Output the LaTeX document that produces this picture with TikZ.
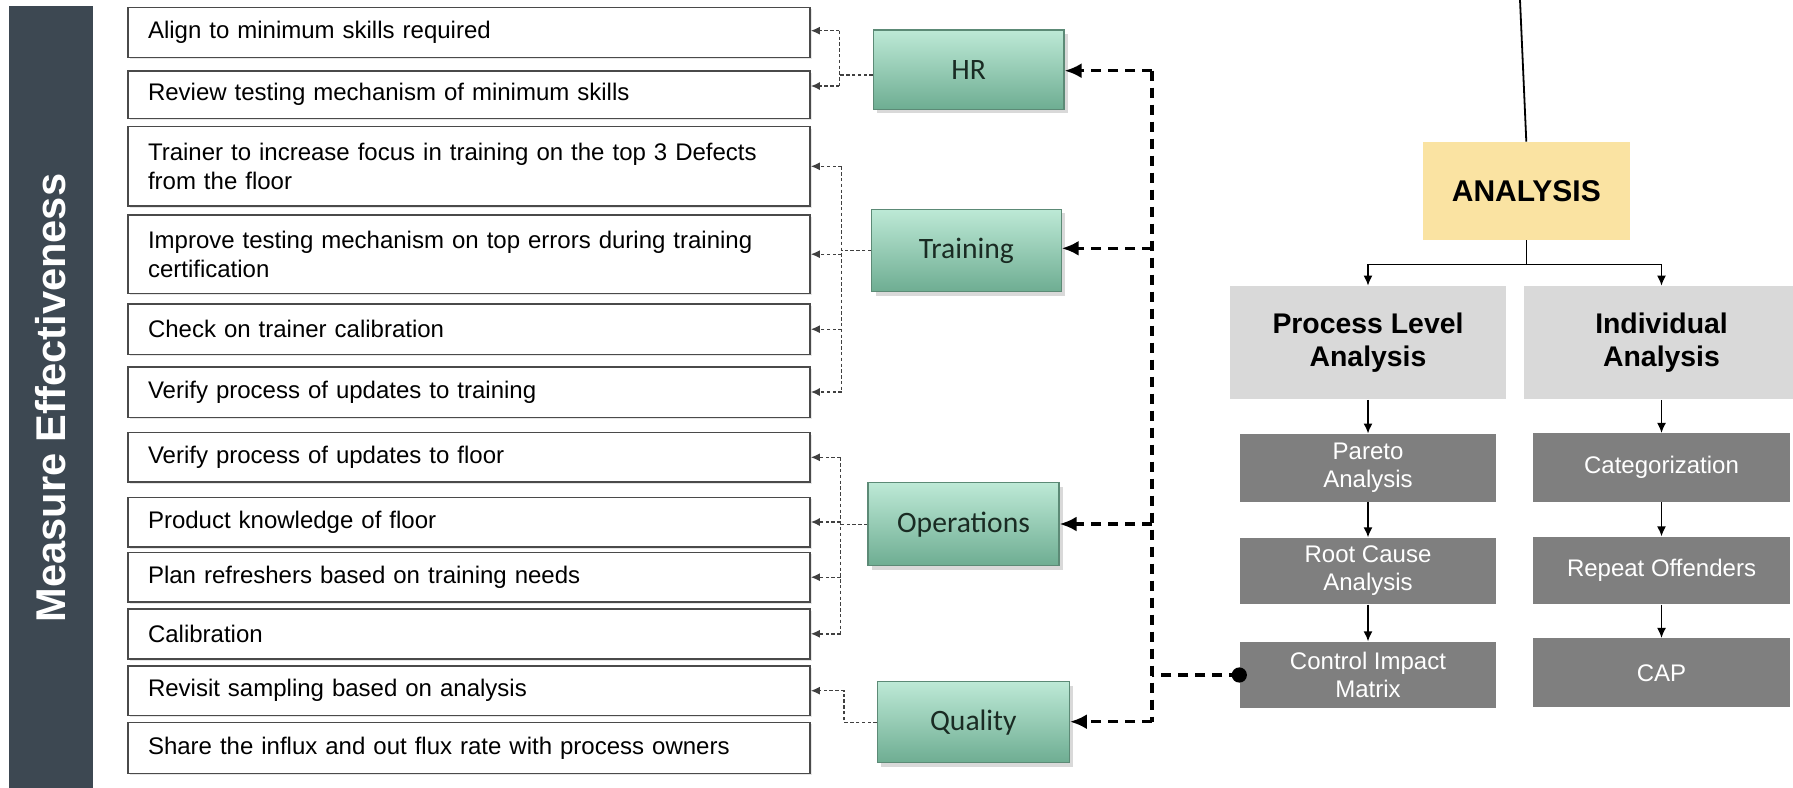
\documentclass[tikz,border=0pt]{standalone}
\usepackage{fontspec}
\setmainfont{Liberation Sans}
\newfontfamily\calibri{Carlito}
\usetikzlibrary{arrows.meta,shadows,calc}
\definecolor{barc}{HTML}{3D4852}
\definecolor{lboxc}{HTML}{4A4A4A}
\definecolor{gtop}{HTML}{BDE9D6}
\definecolor{gbot}{HTML}{6EAD92}
\definecolor{gborder}{HTML}{5C8A76}
\definecolor{gtext}{HTML}{1A2B23}
\definecolor{ylw}{HTML}{FAE3A2}
\definecolor{lgray}{HTML}{D9D9D9}
\definecolor{dgray}{HTML}{7F7F7F}
\begin{document}
\begin{tikzpicture}[x=0.5pt,y=-0.5pt,
  lbox/.style={draw=lboxc, line width=0.8pt, fill=white, text width=321pt, inner xsep=10pt, inner ysep=2pt, align=left,
    font=\fontsize{12}{14.5}\selectfont,
    drop shadow={shadow xshift=1pt, shadow yshift=-1pt, opacity=0.2}},
  gbox/.style={draw=gborder, line width=0.6pt, top color=gtop, bottom color=gbot, text=gtext,
    font=\calibri\fontsize{14.8}{17}\selectfont,
    drop shadow={shadow xshift=2pt, shadow yshift=-2pt, opacity=0.3}},
  dbox/.style={fill=dgray, text=white, align=center, font=\fontsize{12}{14}\selectfont, inner sep=0pt},
  lgbox/.style={fill=lgray, align=center, font=\bfseries\fontsize{14.2}{16.5}\selectfont, inner sep=0pt},
  ldash/.style={draw=black!75, line width=0.7pt, dash pattern=on 1.7pt off 1.2pt},
  ltip/.style={-{Latex[length=4.5pt,width=4pt]}},
  bdash/.style={draw=black, line width=1.6pt, dash pattern=on 5pt off 3.5pt},
  btip/.style={-{Latex[length=8.5pt,width=7.5pt]}},
  arr/.style={draw=black, line width=0.7pt, -{Latex[length=5pt,width=4.5pt]}}
]
\useasboundingbox (0,0) rectangle (1793,787);
\clip (0,0) rectangle (1793,787);

% left bar
\node[fill=barc, rotate=90, minimum width=392pt, minimum height=42pt, inner sep=0pt,
  text=white, font=\bfseries\fontsize{20.8}{24}\selectfont] (bar) at (51,398) {Measure Effectiveness};

% left boxes
\node[lbox, minimum height=25pt]   (b1)  at (469,32.3)  {Align to minimum skills required};
\node[lbox, minimum height=23.8pt] (b2)  at (469,94.5)  {Review testing mechanism of minimum skills};
\node[lbox, minimum height=39.7pt] (b3)  at (469,166.3) {Trainer to increase focus in training on the top 3 Defects\\from the floor};
\node[lbox, minimum height=39.2pt] (b4)  at (469,254.2) {Improve testing mechanism on top errors during training\\certification};
\node[lbox, minimum height=25.2pt] (b5)  at (469,329.2) {Check on trainer calibration};
\node[lbox, minimum height=25.3pt] (b6)  at (469,392)   {Verify process of updates to training};
\node[lbox, minimum height=24.7pt] (b7)  at (469,457.3) {Verify process of updates to floor};
\node[lbox, minimum height=24.7pt] (b8)  at (469,522)   {Product knowledge of floor};
\node[lbox, minimum height=24.9pt] (b9)  at (469,577.2) {Plan refreshers based on training needs};
\node[lbox, minimum height=24.9pt] (b10) at (469,633.8) {Calibration};
\node[lbox, minimum height=24.7pt] (b11) at (469,690.7) {Revisit sampling based on analysis};
\node[lbox, minimum height=25.5pt] (b12) at (469,747.8) {Share the influx and out flux rate with process owners};

% green boxes
\node[gbox, minimum width=95.3pt, minimum height=39.7pt] (hr) at (968.7,69.7)  {HR};
\node[gbox, minimum width=94.7pt, minimum height=41.2pt] (tr) at (966.4,250.5) {Training};
\node[gbox, minimum width=95.5pt, minimum height=41.5pt] (op) at (963.5,524.2) {Operations};
\node[gbox, minimum width=96pt,   minimum height=40.5pt] (q)  at (973.3,722.2) {Quality};

% right side
\node[fill=ylw, minimum width=103.7pt, minimum height=49pt, inner sep=0pt,
  font=\bfseries\fontsize{15}{17}\selectfont] (an) at (1526.3,191) {ANALYSIS};
\node[lgbox, minimum width=138pt, minimum height=56.7pt] (pla) at (1368,342.7)   {Process Level\\Analysis};
\node[lgbox, minimum width=138pt, minimum height=56.7pt] (ia)  at (1661.5,342.7) {Individual\\Analysis};
\node[dbox, minimum width=128.3pt, minimum height=33.9pt] (pa)  at (1368,467.8) {Pareto\\Analysis};
\node[dbox, minimum width=128.3pt, minimum height=33.3pt] (rc)  at (1368,571)   {Root Cause\\Analysis};
\node[dbox, minimum width=128.3pt, minimum height=33.3pt] (cim) at (1368,675)   {Control Impact\\Matrix};
\node[dbox, minimum width=128.3pt, minimum height=34.2pt] (cat) at (1661.5,467.5) {Categorization};
\node[dbox, minimum width=128.3pt, minimum height=33.8pt] (ro)  at (1661.5,570.5) {Repeat Offenders};
\node[dbox, minimum width=128.3pt, minimum height=34.5pt] (cap) at (1661.5,672.8) {CAP};

% analysis tree
\coordinate (top) at (1520,0);
\coordinate (br) at (1526.3,264.3);
\draw[black, line width=0.9pt] (top) -- (an.north);
\draw[arr] (an.south) -- (br) -| (pla.north);
\draw[arr] (br) -| (ia.north);
\draw[arr] (pla.south) -- (pa.north);
\draw[arr] (pa.south) -- (rc.north);
\draw[arr] (rc.south) -- (cim.north);
\draw[arr] (ia.south) -- (cat.north);
\draw[arr] (cat.south) -- (ro.north);
\draw[arr] (ro.south) -- (cap.north);

% HR connectors
\coordinate (hra) at (839.3,30.7);
\coordinate (hrb) at (839.3,86);
\coordinate (hrj) at (839.3,75);
\draw[ldash] (hr.west |- hrj) -- (hrj);
\draw[ldash] (hra) -- (hrb);
\draw[ldash,ltip] (hra) -- (b1.east |- hra);
\draw[ldash,ltip] (hrb) -- (b2.east |- hrb);

% Training connectors
\coordinate (tx) at (841.7,0);
\draw[ldash] (tr.west) -- (tr.west -| tx);
\draw[ldash] (b3.east -| tx) -- (b6.east -| tx);
\foreach \b in {b3,b4,b5,b6} \draw[ldash,ltip] (\b.east -| tx) -- (\b.east);

% Operations connectors
\coordinate (ox) at (840.5,0);
\draw[ldash] (op.west) -- (op.west -| ox);
\draw[ldash] (b7.east -| ox) -- (b10.east -| ox);
\foreach \b in {b7,b8,b9,b10} \draw[ldash,ltip] (\b.east -| ox) -- (\b.east);

% Quality connector
\coordinate (qx) at (844,0);
\draw[ldash,ltip] (q.west) -- (q.west -| qx) |- (b11.east);

% trunk
\coordinate (t1) at (1152,70.7);
\coordinate (t2) at (1152,248.3);
\coordinate (t3) at (1152,524);
\coordinate (t4) at (1152,721.7);
\coordinate (tc) at (1152,675);
\draw[bdash] (t1) -- (t4);
\draw[bdash,btip] (t1) -- (hr.east |- t1);
\draw[bdash,btip] (t2) -- (tr.east |- t2);
\draw[bdash,btip] (t3) -- (op.east |- t3);
\draw[bdash,btip] (t4) -- (q.east |- t4);
\draw[bdash] (cim.west) -- (tc);
\fill[black] (cim.west) circle (3.8pt);
\end{tikzpicture}
\end{document}
